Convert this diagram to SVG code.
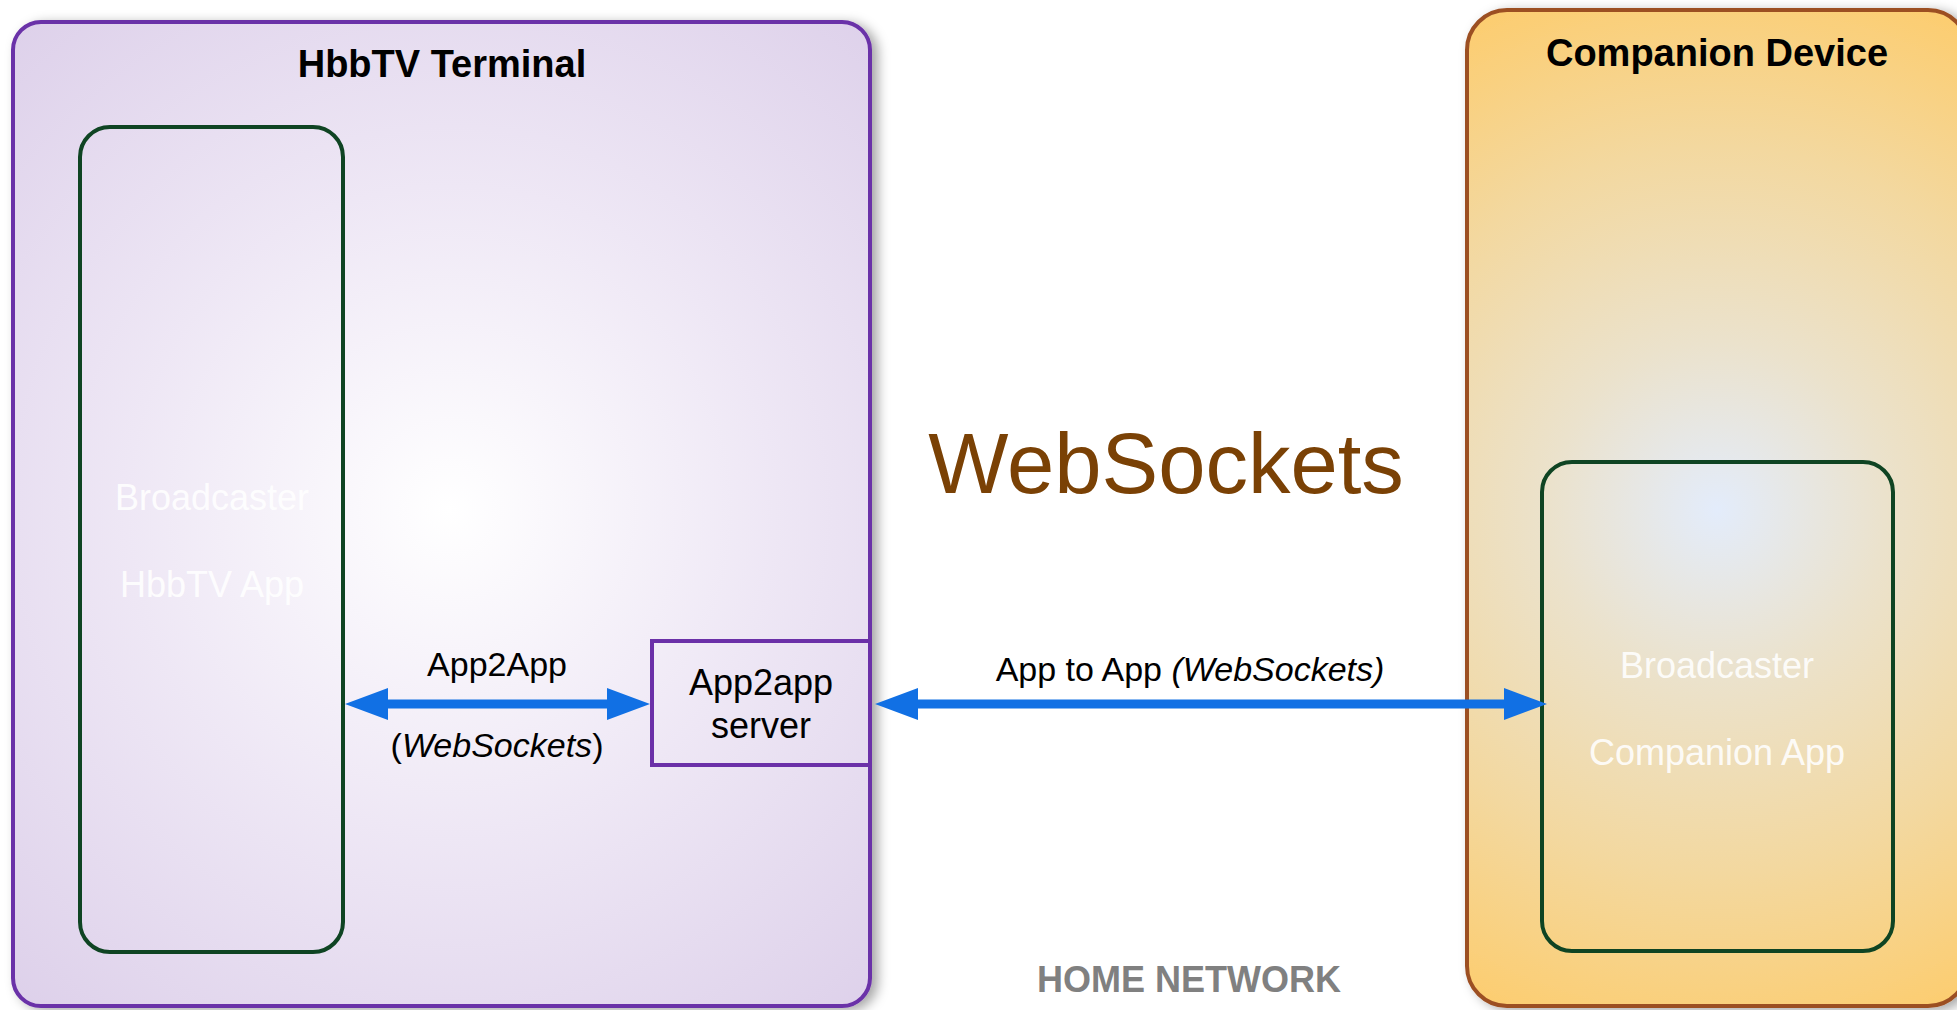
<svg xmlns="http://www.w3.org/2000/svg" width="1957" height="1010" viewBox="0 0 1957 1010">
  <style>
    .title { font-family: "Liberation Sans", Arial, sans-serif; font-weight: bold; font-size: 38px; fill: #000000; text-anchor: middle; }
    .label { font-family: "Liberation Sans", Arial, sans-serif; font-size: 34px; fill: #000000; text-anchor: middle; }
    .server { font-family: "Liberation Sans", Arial, sans-serif; font-size: 36px; fill: #000000; text-anchor: middle; }
    .app { font-family: "Liberation Sans", Arial, sans-serif; font-size: 36px; fill: #ffffff; fill-opacity: 0.9; text-anchor: middle; }
    .inner { fill: none; stroke: #0f4423; stroke-width: 4; }
    .conn { stroke: #1170e4; stroke-width: 9; fill: none; marker-start: url(#head); marker-end: url(#head); }
  </style>
  <defs>
    <radialGradient id="gTerm" gradientUnits="userSpaceOnUse" cx="450" cy="510" r="720">
      <stop offset="0" stop-color="#ffffff"/>
      <stop offset="0.45" stop-color="#eee7f5"/>
      <stop offset="1" stop-color="#dacce8"/>
    </radialGradient>
    <radialGradient id="gComp" gradientUnits="userSpaceOnUse" cx="1717" cy="510" r="560">
      <stop offset="0" stop-color="#e3ecfb"/>
      <stop offset="0.3" stop-color="#ebe2cc"/>
      <stop offset="0.65" stop-color="#f3d89f"/>
      <stop offset="1" stop-color="#fdcc6c"/>
    </radialGradient>
    <filter id="shadow" x="-10%" y="-10%" width="120%" height="120%">
      <feDropShadow dx="6" dy="3" stdDeviation="6" flood-color="#000000" flood-opacity="0.35"/>
    </filter>
    <marker id="head" viewBox="0 -16 43 32" markerUnits="userSpaceOnUse" markerWidth="43" markerHeight="32" refX="1" refY="0" orient="auto-start-reverse">
      <path d="M0,-16 L43,0 L0,16 z" fill="#1170e4"/>
    </marker>
  </defs>

  <rect width="1957" height="1010" fill="#ffffff"/>

  <g id="hbbtv-terminal">
    <rect x="13" y="22" width="857" height="984" rx="28" ry="28" fill="url(#gTerm)" stroke="#6b30a8" stroke-width="4" filter="url(#shadow)"/>
    <text class="title" x="442" y="77">HbbTV Terminal</text>
  </g>

  <g id="companion-device">
    <rect x="1467" y="10" width="501" height="996" rx="40" ry="40" fill="url(#gComp)" stroke="#9c4f24" stroke-width="4" filter="url(#shadow)"/>
    <text class="title" x="1717" y="66">Companion Device</text>
  </g>

  <g id="hbbtv-app">
    <rect class="inner" x="80" y="127" width="263" height="825" rx="30" ry="30"/>
    <text class="app" x="212" y="510">Broadcaster</text>
    <text class="app" x="212" y="597">HbbTV App</text>
  </g>

  <g id="companion-app">
    <rect class="inner" x="1542" y="462" width="351" height="489" rx="30" ry="30"/>
    <text class="app" x="1717" y="678">Broadcaster</text>
    <text class="app" x="1717" y="765">Companion App</text>
  </g>

  <g id="app2app-server">
    <rect x="652" y="641" width="218" height="124" fill="none" stroke="#6b30a8" stroke-width="4"/>
    <text class="server" x="761" y="695">App2app</text>
    <text class="server" x="761" y="738">server</text>
  </g>

  <g id="connectors">
    <line class="conn" x1="387" y1="704" x2="608" y2="704"/>
    <line class="conn" x1="917" y1="704" x2="1505" y2="704"/>
  </g>

  <g id="connector-labels">
    <text class="label" x="497" y="676">App2App</text>
    <text class="label" x="497" y="757">(<tspan font-style="italic">WebSockets</tspan>)</text>
    <text class="label" x="1190" y="681">App to App <tspan font-style="italic">(WebSockets)</tspan></text>
  </g>

  <g id="websockets-label">
    <text x="1166" y="493" font-family="'Liberation Sans', Arial, sans-serif" font-size="85" fill="#7a4105" text-anchor="middle">WebSockets</text>
  </g>

  <g id="home-network-label">
    <text x="1189" y="992" font-family="'Liberation Sans', Arial, sans-serif" font-size="36" font-weight="bold" fill="#808080" text-anchor="middle">HOME NETWORK</text>
  </g>
</svg>
